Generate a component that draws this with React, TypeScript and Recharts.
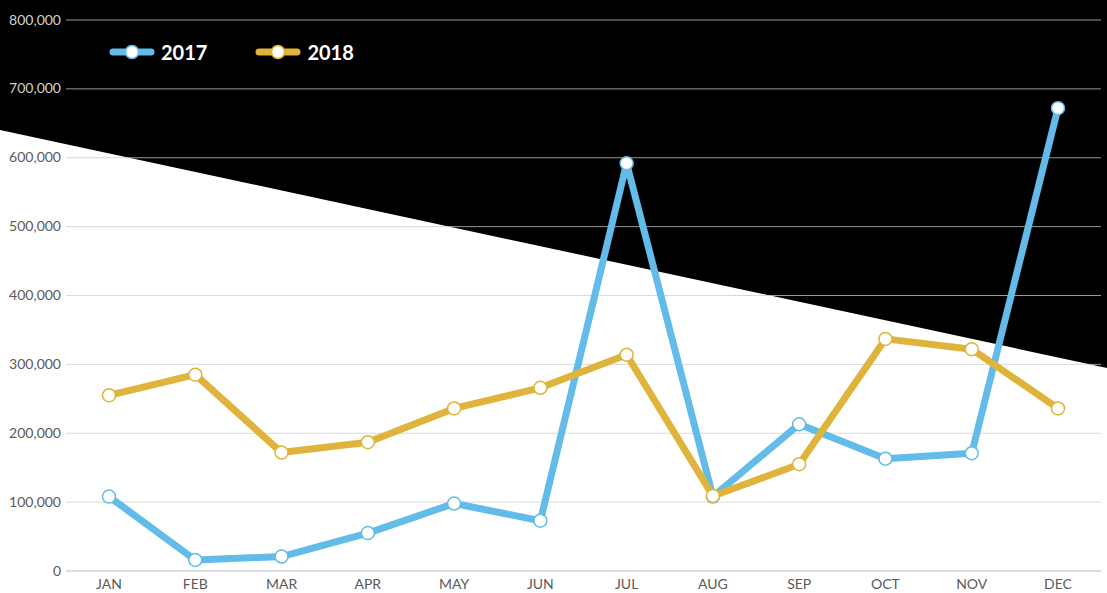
import React from "react";
import { LineChart, Line, XAxis, YAxis, CartesianGrid } from "recharts";

const months = ["JAN", "FEB", "MAR", "APR", "MAY", "JUN", "JUL", "AUG", "SEP", "OCT", "NOV", "DEC"];
const sales2017 = [108000, 16000, 21000, 55000, 98000, 73000, 592000, 108000, 213000, 163000, 171000, 672000];
const sales2018 = [255000, 285000, 172000, 187000, 236000, 266000, 314000, 109000, 155000, 337000, 322000, 236000];
const yTicks = [0, 100000, 200000, 300000, 400000, 500000, 600000, 700000, 800000];

const seriesList = [
  { key: "y2017", name: "2017", color: "#62bbe8" },
  { key: "y2018", name: "2018", color: "#e0b43c" },
];

const data = months.map((m, i) => ({ month: m, y2017: sales2017[i], y2018: sales2018[i] }));

const W = 1107;
const H = 593;
const FONT = "Lato, 'Noto Sans', sans-serif";

const diagY = (x: number) => 130 + (238 / 1107) * x;

const YTick = (props: any) => {
  const { x, y, payload } = props;
  const onDark = y < diagY(x);
  return (
    <text x={x} y={y} dy={4.5} textAnchor="end" fontSize={14} fontFamily={FONT} fill={onDark ? "#d0d0d0" : "#5a5a5a"}>
      {Number(payload.value).toLocaleString("en-US")}
    </text>
  );
};

const LegendBox = () => (
  <div style={{ position: "absolute", left: 109, top: 40, display: "flex", alignItems: "center", fontFamily: FONT }}>
    {seriesList.map((s) => (
      <div key={s.key} style={{ display: "flex", alignItems: "center", marginRight: 48 }}>
        <svg width={46} height={16}>
          <line x1={4} y1={8} x2={42} y2={8} stroke={s.color} strokeWidth={7} strokeLinecap="round" />
          <circle cx={23} cy={8} r={6.5} fill="#fff" stroke={s.color} strokeWidth={1.5} />
        </svg>
        <span style={{ color: "#fff", fontWeight: 700, fontSize: 20, marginLeft: 6 }}>{s.name}</span>
      </div>
    ))}
  </div>
);

export default function App() {
  return (
    <div style={{ position: "absolute", left: 0, top: 0, width: W, height: H, background: "#fff", overflow: "hidden" }}>
      <svg width={W} height={H} style={{ position: "absolute", left: 0, top: 0 }}>
        <polygon points={`0,0 ${W},0 ${W},368 0,130`} fill="#000" />
      </svg>
      <div style={{ position: "absolute", left: 0, top: 0 }}>
        <LineChart width={W} height={H} data={data} margin={{ top: 20, right: 6, left: 0, bottom: 0 }}>
          <CartesianGrid vertical={false} stroke="#ccc" strokeOpacity={0.75} />
          <XAxis
            dataKey="month"
            padding={{ left: 43, right: 43 }}
            tickLine={false}
            axisLine={{ stroke: "#ddd", strokeWidth: 2 }}
            height={22}
            tick={{ fontSize: 14, fontFamily: FONT, fill: "#5a5a5a" }}
            interval={0}
          />
          <YAxis
            width={66}
            domain={[0, 800000]}
            ticks={yTicks}
            tickLine={false}
            axisLine={false}
            tick={<YTick />}
            tickSize={0}
            tickMargin={5}
          />
          {seriesList.map((s) => (
            <Line
              key={s.key}
              type="linear"
              dataKey={s.key}
              name={s.name}
              stroke={s.color}
              strokeWidth={7}
              strokeLinejoin="round"
              dot={{ r: 6.5, fill: "#fff", stroke: s.color, strokeWidth: 1.5 }}
              activeDot={false}
              isAnimationActive={false}
            />
          ))}
        </LineChart>
      </div>
      <LegendBox />
    </div>
  );
}
